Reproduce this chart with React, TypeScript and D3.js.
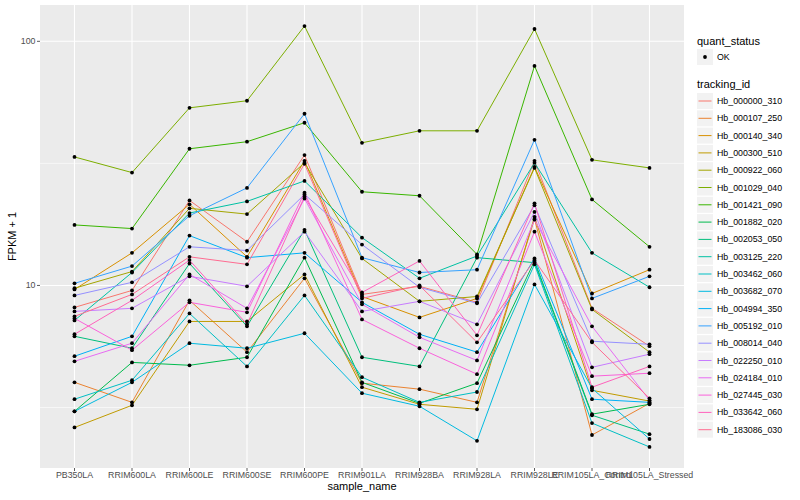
import React from "react";
import * as d3 from "d3";

const WIDTH = 800;
const HEIGHT = 500;
const PANEL = { left: 40, right: 684, top: 5, bottom: 468 };

const samples = [
  "PB350LA",
  "RRIM600LA",
  "RRIM600LE",
  "RRIM600SE",
  "RRIM600PE",
  "RRIM901LA",
  "RRIM928BA",
  "RRIM928LA",
  "RRIM928LE",
  "RRIM105LA_Control",
  "RRIM105LA_Stressed",
];

const trackingIds = [
  "Hb_000000_310",
  "Hb_000107_250",
  "Hb_000140_340",
  "Hb_000300_510",
  "Hb_000922_060",
  "Hb_001029_040",
  "Hb_001421_090",
  "Hb_001882_020",
  "Hb_002053_050",
  "Hb_003125_220",
  "Hb_003462_060",
  "Hb_003682_070",
  "Hb_004994_350",
  "Hb_005192_010",
  "Hb_008014_040",
  "Hb_022250_010",
  "Hb_024184_010",
  "Hb_027445_030",
  "Hb_033642_060",
  "Hb_183086_030",
];

// FPKM + 1, one value per sample
const hb_000000_310 = [8.13, 9.54, 22.3, 15.1, 34.2, 9.19, 9.92, 8.53, 32.4, 8.06, 5.64];
const hb_000107_250 = [4.01, 3.32, 8.69, 5.33, 10.7, 3.98, 3.76, 3.32, 18.7, 2.44, 3.29];
const hb_000140_340 = [9.63, 13.6, 21.5, 13.1, 32.4, 9.01, 7.4, 8.85, 30.6, 9.27, 11.6];
const hb_000300_510 = [2.62, 3.23, 7.12, 7.12, 11.1, 3.83, 3.26, 3.11, 19.1, 3.72, 3.36];
const hb_000922_060 = [9.74, 11.4, 20.7, 19.6, 31.8, 12.9, 8.61, 9.01, 30.3, 7.98, 5.33];
const hb_001029_040 = [33.6, 29.0, 53.4, 57.1, 115.5, 38.4, 43.0, 43.0, 112.3, 32.7, 30.3];
const hb_001421_090 = [17.7, 17.1, 36.3, 38.8, 46.4, 24.2, 23.3, 13.4, 79.3, 22.5, 14.4];
const hb_001882_020 = [3.05, 4.84, 4.71, 5.08, 13.0, 4.01, 3.29, 3.98, 12.6, 2.97, 3.26];
const hb_002053_050 = [6.19, 5.53, 12.3, 6.8, 16.9, 5.08, 4.66, 13.0, 12.4, 2.94, 2.46];
const hb_003125_220 = [7.19, 11.3, 19.8, 22.1, 26.8, 15.7, 10.7, 13.2, 31.8, 13.6, 9.83];
const hb_003462_060 = [3.42, 4.09, 7.68, 4.66, 9.1, 4.21, 3.32, 3.66, 12.2, 2.73, 2.18];
const hb_003682_070 = [3.05, 4.01, 5.8, 5.53, 6.37, 3.62, 3.2, 2.31, 10.1, 3.79, 2.35];
const hb_004994_350 = [5.13, 6.19, 16.0, 13.0, 13.6, 8.53, 6.31, 5.33, 12.9, 3.42, 3.32];
const hb_005192_010 = [10.2, 12.0, 19.3, 25.1, 50.5, 13.0, 11.3, 11.6, 39.5, 8.85, 10.9];
const hb_008014_040 = [9.1, 10.3, 14.4, 13.9, 23.6, 14.7, 9.83, 8.45, 21.3, 5.91, 5.74];
const hb_022250_010 = [7.83, 8.06, 10.9, 9.92, 16.6, 7.83, 8.61, 6.93, 20.0, 4.62, 5.23];
const hb_024184_010 = [4.89, 5.8, 11.1, 8.06, 22.7, 8.37, 6.13, 4.93, 18.6, 6.8, 3.39];
const hb_027445_030 = [7.33, 5.43, 8.53, 7.76, 24.0, 7.26, 5.53, 4.33, 16.6, 4.25, 4.37];
const hb_033642_060 = [6.31, 8.69, 12.7, 6.93, 23.1, 9.36, 12.6, 6.25, 21.7, 3.83, 4.66];
const hb_183086_030 = [7.47, 9.19, 13.1, 12.2, 31.5, 8.85, 10.0, 5.85, 12.7, 5.85, 3.45];

const fpkm = [
  hb_000000_310, hb_000107_250, hb_000140_340, hb_000300_510, hb_000922_060,
  hb_001029_040, hb_001421_090, hb_001882_020, hb_002053_050, hb_003125_220,
  hb_003462_060, hb_003682_070, hb_004994_350, hb_005192_010, hb_008014_040,
  hb_022250_010, hb_024184_010, hb_027445_030, hb_033642_060, hb_183086_030,
];

const yTicks = [10, 100];
const yMinor = [Math.sqrt(10), Math.sqrt(1000)];

// ggplot default hue palette for 20 groups
const hues = [
  "#F8766D", "#EA8331", "#D89000", "#C09B00", "#A3A500",
  "#7CAE00", "#39B600", "#00BB4E", "#00BF7D", "#00C1A3",
  "#00BFC4", "#00BAE0", "#00B0F6", "#35A2FF", "#9590FF",
  "#C77CFF", "#E76BF3", "#FA62DB", "#FF62BC", "#FF6C91",
];

const FONT = "'Liberation Sans', Arial, Helvetica, sans-serif";

const App = () => {
  const x = d3
    .scalePoint<string>()
    .domain(samples)
    .range([PANEL.left, PANEL.right])
    .padding(0.6);

  const [lo, hi] = d3.extent(fpkm.flat()) as [number, number];
  const l0 = Math.log10(lo);
  const l1 = Math.log10(hi);
  const pad = (l1 - l0) * 0.05;
  const y = d3
    .scaleLog()
    .domain([10 ** (l0 - pad), 10 ** (l1 + pad)])
    .range([PANEL.bottom, PANEL.top]);

  const line = d3
    .line<number>()
    .x((_, i) => x(samples[i])!)
    .y((d) => y(d));

  const legendX = 697;
  const rowY = (i: number) => 101 + i * 17.3;

  return (
    <svg
      width={WIDTH}
      height={HEIGHT}
      style={{ position: "absolute", left: 0, top: 0 }}
      fontFamily={FONT}
    >
      <rect width={WIDTH} height={HEIGHT} fill="#fff" />
      <rect
        x={PANEL.left}
        y={PANEL.top}
        width={PANEL.right - PANEL.left}
        height={PANEL.bottom - PANEL.top}
        fill="#EBEBEB"
      />
      {yMinor.map((t) => (
        <line
          key={"m" + t}
          x1={PANEL.left}
          x2={PANEL.right}
          y1={y(t)}
          y2={y(t)}
          stroke="#fff"
          strokeWidth={0.6}
        />
      ))}
      {yTicks.map((t) => (
        <line
          key={"g" + t}
          x1={PANEL.left}
          x2={PANEL.right}
          y1={y(t)}
          y2={y(t)}
          stroke="#fff"
          strokeWidth={1.1}
        />
      ))}
      {samples.map((s) => (
        <line
          key={"v" + s}
          x1={x(s)}
          x2={x(s)}
          y1={PANEL.top}
          y2={PANEL.bottom}
          stroke="#fff"
          strokeWidth={1.1}
        />
      ))}

      <g>
        {fpkm.map((vals, i) => (
          <path
            key={trackingIds[i]}
            d={line(vals)!}
            fill="none"
            stroke={hues[i]}
            strokeWidth={1}
          />
        ))}
      </g>
      <g>
        {fpkm.map((vals, i) =>
          vals.map((v, j) => (
            <circle
              key={i + "-" + j}
              cx={x(samples[j])}
              cy={y(v)}
              r={1.9}
              fill="#000"
            />
          ))
        )}
      </g>

      {/* axes */}
      {yTicks.map((t) => (
        <g key={"yt" + t}>
          <line
            x1={PANEL.left - 3}
            x2={PANEL.left}
            y1={y(t)}
            y2={y(t)}
            stroke="#333"
            strokeWidth={0.8}
          />
          <text
            x={PANEL.left - 4.5}
            y={y(t)}
            textAnchor="end"
            dominantBaseline="central"
            fontSize={8.8}
            fill="#4D4D4D"
          >
            {t}
          </text>
        </g>
      ))}
      {samples.map((s) => (
        <g key={"xt" + s}>
          <line
            x1={x(s)}
            x2={x(s)}
            y1={PANEL.bottom}
            y2={PANEL.bottom + 3}
            stroke="#333"
            strokeWidth={0.8}
          />
          <text
            x={x(s)}
            y={PANEL.bottom + 10}
            textAnchor="middle"
            fontSize={8.8}
            fill="#4D4D4D"
          >
            {s}
          </text>
        </g>
      ))}
      <text
        x={(PANEL.left + PANEL.right) / 2}
        y={490}
        textAnchor="middle"
        fontSize={11}
        fill="#000"
      >
        sample_name
      </text>
      <text
        transform={`translate(16, ${(PANEL.top + PANEL.bottom) / 2}) rotate(-90)`}
        textAnchor="middle"
        fontSize={11}
        fill="#000"
      >
        FPKM + 1
      </text>

      {/* legends */}
      <text x={legendX} y={45} fontSize={11} fill="#000">
        quant_status
      </text>
      <rect x={legendX} y={49} width={16} height={16} fill="#F2F2F2" />
      <circle cx={legendX + 8} cy={57} r={1.9} fill="#000" />
      <text
        x={legendX + 20}
        y={57}
        dominantBaseline="central"
        fontSize={8.8}
        fill="#000"
      >
        OK
      </text>

      <text x={legendX} y={88} fontSize={11} fill="#000">
        tracking_id
      </text>
      {trackingIds.map((id, i) => (
        <g key={"lg" + id}>
          <rect
            x={legendX}
            y={rowY(i) - 8}
            width={16}
            height={16}
            fill="#F2F2F2"
          />
          <line
            x1={legendX + 1.5}
            x2={legendX + 14.5}
            y1={rowY(i)}
            y2={rowY(i)}
            stroke={hues[i]}
            strokeWidth={1}
          />
          <text
            x={legendX + 20}
            y={rowY(i)}
            dominantBaseline="central"
            fontSize={8.8}
            fill="#000"
          >
            {id}
          </text>
        </g>
      ))}
    </svg>
  );
};

export default App;
